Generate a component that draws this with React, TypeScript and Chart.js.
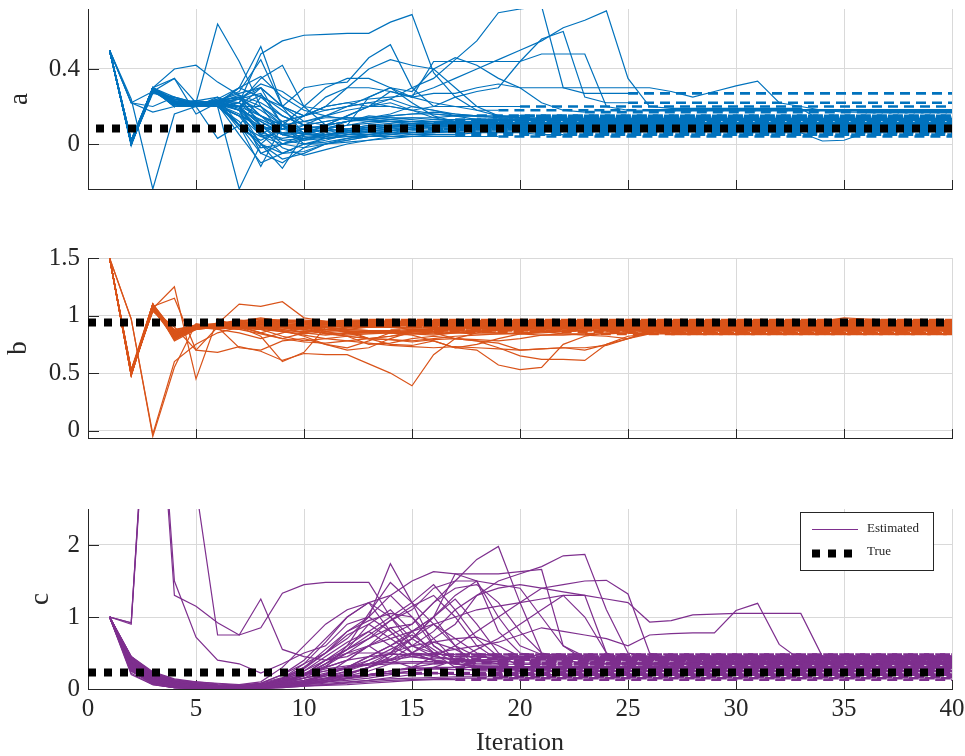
import React, { useEffect, useRef } from 'react';
import { Chart, registerables } from 'chart.js';
Chart.register(...registerables);

// ---------- data ----------
const iterationTicks = [0, 5, 10, 15, 20, 25, 30, 35, 40];
const aTicks = [0, 0.4];
const bTicks = [0, 0.5, 1, 1.5];
const cTicks = [0, 1, 2];
const trueA = 0.083;
const trueB = 0.939;
const trueC = 0.228;

// each run: estimate at iteration 1,2,3,... until it stops (then held constant, dashed)
const aRuns: number[][] = [
  [0.5, 0.0, 0.3, 0.22, 0.21, 0.22, 0.2, 0.05, -0.05, 0.0, 0.03, 0.05, 0.07, 0.08, 0.08, 0.09, 0.09],
  [0.5, 0.01, 0.29, 0.21, 0.22, 0.23, 0.25, 0.1, 0.05, 0.06, 0.1, 0.12, 0.15, 0.14, 0.13, 0.12, 0.11, 0.1, 0.1],
  [0.5, -0.01, 0.3, 0.2, 0.2, 0.22, 0.18, 0.0, -0.05, -0.04, 0.0, 0.02, 0.04, 0.06, 0.08, 0.09, 0.1, 0.1, 0.11, 0.1, 0.1, 0.1],
  [0.5, 0.0, 0.28, 0.24, 0.22, 0.2, 0.22, 0.48, 0.55, 0.58, 0.585, 0.59, 0.59, 0.65, 0.69, 0.38, 0.25, 0.18, 0.15, 0.14, 0.13, 0.13],
  [0.5, 0.24, -0.24, 0.16, 0.2, 0.03, 0.1, 0.25, 0.15, 0.1, 0.08, 0.07, 0.06, 0.06, 0.07, 0.07],
  [0.5, 0.0, 0.3, 0.4, 0.42, 0.33, 0.26, 0.15, 0.05, 0.1, 0.15, 0.2, 0.25, 0.3, 0.22, 0.15, 0.12, 0.12, 0.12],
  [0.5, 0.02, 0.3, 0.35, 0.22, 0.64, 0.44, 0.2, 0.1, 0.05, 0.08, 0.12, 0.14, 0.16, 0.2, 0.18, 0.15, 0.13, 0.13],
  [0.5, 0.0, 0.27, 0.25, 0.22, 0.2, -0.24, 0.0, 0.1, 0.05, 0.06, 0.08, 0.1, 0.1, 0.1, 0.09, 0.08, 0.08],
  [0.5, 0.0, 0.3, 0.2, 0.21, 0.24, 0.3, 0.52, 0.2, 0.05, 0.08, 0.1, 0.25, 0.3, 0.28, 0.4, 0.46, 0.42, 0.35, 0.3, 0.22, 0.18, 0.17],
  [0.5, 0.0, 0.29, 0.22, 0.23, 0.25, 0.1, -0.12, 0.1, 0.12, 0.15, 0.18, 0.2, 0.24, 0.3, 0.35, 0.45, 0.55, 0.7, 0.72, 0.735, 0.3, 0.27, 0.27, 0.27],
  [0.5, 0.22, 0.17, 0.2, 0.2, 0.22, 0.24, 0.3, 0.1, 0.0, 0.02, 0.05, 0.06, 0.07, 0.08, 0.08],
  [0.5, 0.0, 0.3, 0.22, 0.22, 0.21, 0.05, -0.1, -0.05, 0.0, 0.0, 0.01, 0.02, 0.03, 0.04, 0.05, 0.05, 0.06, 0.06, 0.06, 0.05, 0.05],
  [0.5, 0.0, 0.29, 0.24, 0.2, 0.2, 0.15, 0.1, 0.12, 0.15, 0.2, 0.22, 0.24, 0.25, 0.26, 0.3, 0.35, 0.4, 0.45, 0.5, 0.55, 0.62, 0.66, 0.71, 0.35, 0.2, 0.19, 0.19, 0.19, 0.19, 0.19, 0.19, 0.19, 0.12, 0.11],
  [0.5, 0.0, 0.3, 0.2, 0.22, 0.22, 0.2, 0.1, 0.0, -0.02, 0.0, 0.02, 0.04, 0.05, 0.06, 0.07, 0.07, 0.08, 0.08, 0.08, 0.08, 0.07, 0.07, 0.07, 0.07, 0.07, 0.07, 0.07, 0.07, 0.06, 0.06, 0.06, 0.06, 0.016, 0.02, 0.06, 0.06],
  [0.5, 0.01, 0.28, 0.22, 0.2, 0.25, 0.2, 0.3, 0.2, 0.15, 0.2, 0.3, 0.4, 0.45, 0.42, 0.4, 0.3, 0.2, 0.15, 0.14, 0.14],
  [0.5, 0.0, 0.3, 0.21, 0.22, 0.23, 0.28, 0.45, 0.2, 0.3, 0.32, 0.33, 0.46, 0.53, 0.3, 0.2, 0.2, 0.2, 0.2, 0.2],
  [0.5, 0.0, 0.29, 0.23, 0.21, 0.22, 0.1, 0.0, -0.13, 0.05, 0.1, 0.12, 0.13, 0.14, 0.14, 0.14, 0.15, 0.15, 0.15, 0.15],
  [0.5, 0.02, 0.3, 0.2, 0.22, 0.2, 0.25, 0.15, 0.1, 0.2, 0.3, 0.35, 0.35, 0.3, 0.25, 0.44, 0.44, 0.44, 0.44, 0.44, 0.48, 0.48, 0.48, 0.2, 0.18, 0.18],
  [0.5, 0.0, 0.28, 0.22, 0.21, 0.22, 0.2, 0.05, 0.12, 0.15, 0.2, 0.22, 0.2, 0.2, 0.18, 0.2, 0.25, 0.28, 0.3, 0.44, 0.56, 0.6, 0.25, 0.22, 0.22],
  [0.5, 0.01, 0.3, 0.25, 0.22, 0.21, 0.18, -0.05, 0.0, 0.05, 0.05, 0.06, 0.07, 0.08, 0.09, 0.1, 0.1, 0.11, 0.11, 0.11, 0.11, 0.11, 0.1],
  [0.5, 0.0, 0.29, 0.22, 0.2, 0.2, 0.22, 0.35, 0.42, 0.2, 0.1, 0.08, 0.08, 0.09, 0.1, 0.1, 0.1],
  [0.5, 0.0, 0.3, 0.21, 0.21, 0.22, 0.24, 0.27, 0.1, 0.02, 0.03, 0.04, 0.04, 0.04, 0.04, 0.04, 0.04, 0.04, 0.04],
  [0.5, 0.22, 0.28, 0.35, 0.16, 0.22, 0.18, 0.13, 0.08, 0.15, 0.25, 0.3, 0.3, 0.28, 0.25, 0.27, 0.27, 0.3, 0.32, 0.3, 0.3, 0.3, 0.3, 0.3, 0.3, 0.3, 0.28, 0.25, 0.28, 0.31, 0.335, 0.22, 0.2, 0.18, 0.17, 0.17],
  [0.5, 0.0, 0.3, 0.22, 0.22, 0.23, 0.25, 0.2, 0.05, 0.03, 0.05, 0.06, 0.08, 0.09, 0.1, 0.11, 0.12, 0.12, 0.13, 0.13, 0.13, 0.13, 0.12, 0.12, 0.12, 0.12, 0.12, 0.12],
  [0.5, 0.0, 0.29, 0.2, 0.22, 0.22, 0.08, 0.02, 0.08, 0.1, 0.12, 0.14, 0.14, 0.13, 0.12, 0.11, 0.1, 0.09, 0.09, 0.09, 0.09, 0.09, 0.09, 0.09, 0.09, 0.09, 0.09, 0.09, 0.09, 0.09],
  [0.5, 0.02, 0.29, 0.22, 0.2, 0.22, 0.3, 0.25, 0.2, 0.15, 0.18, 0.2, 0.22, 0.24, 0.2, 0.18, 0.16, 0.15, 0.14, 0.14],
  [0.5, 0.0, 0.3, 0.23, 0.21, 0.21, 0.15, 0.05, 0.02, 0.03, 0.05, 0.07, 0.09, 0.1, 0.11, 0.12, 0.12],
  [0.5, 0.01, 0.28, 0.22, 0.22, 0.2, 0.2, 0.1, 0.05, 0.08, 0.1, 0.15, 0.2, 0.28, 0.25, 0.22, 0.2, 0.18, 0.18],
  [0.5, 0.0, 0.3, 0.22, 0.21, 0.22, 0.18, 0.12, 0.05, 0.02, 0.04, 0.06, 0.07, 0.07, 0.08],
  [0.5, 0.01, 0.29, 0.23, 0.22, 0.21, 0.2, 0.15, 0.1, 0.08, 0.07, 0.08, 0.09, 0.1, 0.1, 0.11, 0.11],
  [0.5, 0.0, 0.3, 0.22, 0.2, 0.22, 0.26, 0.22, 0.15, 0.1, 0.12, 0.14, 0.13, 0.12, 0.12, 0.12, 0.13, 0.13],
  [0.5, 0.0, 0.28, 0.21, 0.22, 0.2, 0.12, -0.02, 0.0, 0.03, 0.04, 0.05, 0.05, 0.06, 0.06, 0.06, 0.06],
  [0.5, 0.02, 0.3, 0.24, 0.21, 0.23, 0.27, 0.3, 0.2, 0.12, 0.1, 0.12, 0.14, 0.15, 0.16, 0.16, 0.15, 0.15],
  [0.5, 0.0, 0.29, 0.2, 0.22, 0.21, 0.16, 0.08, -0.02, -0.06, -0.03, 0.0, 0.02, 0.04, 0.05, 0.06, 0.07, 0.08, 0.08, 0.08],
  [0.5, 0.01, 0.3, 0.22, 0.23, 0.22, 0.24, 0.18, 0.1, 0.06, 0.08, 0.1, 0.11, 0.12, 0.12, 0.12, 0.11, 0.11],
  [0.5, 0.0, 0.28, 0.23, 0.2, 0.22, 0.2, 0.26, 0.18, 0.1, 0.05, 0.06, 0.08, 0.09, 0.09, 0.1],
  [0.5, 0.0, 0.3, 0.21, 0.21, 0.2, 0.1, 0.04, 0.06, 0.08, 0.1, 0.12, 0.14, 0.15, 0.16, 0.17, 0.16, 0.15, 0.14, 0.14],
  [0.5, 0.22, 0.2, 0.25, 0.2, 0.24, 0.22, 0.12, 0.06, 0.04, 0.05, 0.07, 0.08, 0.09, 0.1, 0.1, 0.09, 0.09],
  [0.5, 0.0, 0.29, 0.22, 0.22, 0.22, 0.22, 0.15, 0.08, 0.05, 0.1, 0.15, 0.2, 0.22, 0.18, 0.14, 0.12, 0.11, 0.11],
  [0.5, 0.01, 0.3, 0.2, 0.21, 0.23, 0.25, 0.1, 0.02, 0.0, 0.01, 0.03, 0.04, 0.05, 0.06, 0.06, 0.07, 0.07, 0.07, 0.07],
  [0.5, 0.0, 0.28, 0.24, 0.22, 0.2, 0.15, 0.0, -0.08, -0.05, 0.0, 0.03, 0.05, 0.07, 0.09, 0.1, 0.1, 0.1],
  [0.5, 0.0, 0.3, 0.22, 0.21, 0.21, 0.3, 0.36, 0.25, 0.18, 0.15, 0.13, 0.12, 0.12, 0.11, 0.11],
  [0.5, 0.02, 0.29, 0.21, 0.22, 0.22, 0.18, 0.06, 0.03, 0.05, 0.08, 0.1, 0.12, 0.13, 0.14, 0.13, 0.13],
  [0.5, 0.0, 0.3, 0.23, 0.2, 0.21, 0.2, 0.2, 0.12, 0.06, 0.03, 0.04, 0.05, 0.06, 0.05, 0.05, 0.05],
  [0.5, 0.0, 0.29, 0.22, 0.23, 0.22, 0.1, -0.05, -0.1, -0.02, 0.04, 0.08, 0.1, 0.11, 0.12, 0.12, 0.12],
  [0.5, 0.01, 0.3, 0.21, 0.22, 0.2, 0.24, 0.32, 0.28, 0.2, 0.18, 0.2, 0.22, 0.2, 0.18, 0.16, 0.15, 0.15],
  [0.5, 0.0, 0.28, 0.22, 0.21, 0.22, 0.19, 0.08, 0.1, 0.12, 0.14, 0.14, 0.13, 0.12, 0.1, 0.1, 0.09, 0.09],
  [0.5, 0.0, 0.3, 0.2, 0.22, 0.23, 0.2, 0.04, 0.0, 0.02, 0.05, 0.07, 0.09, 0.1, 0.1, 0.1, 0.1],
];

const bRuns: number[][] = [
  [1.5, 0.5, 1.08, 0.8, 0.9, 0.9, 0.92, 0.93, 0.94, 0.95, 0.95, 0.94, 0.94, 0.94],
  [1.5, 0.48, 1.1, 0.78, 0.88, 0.92, 0.95, 0.9, 0.88, 0.9, 0.92, 0.93, 0.93, 0.93, 0.93],
  [1.5, 0.52, 1.05, 0.82, 0.9, 0.88, 0.85, 0.8, 0.85, 0.9, 0.92, 0.91, 0.91, 0.9],
  [1.5, 0.97, -0.05, 0.55, 0.93, 0.9, 0.92, 0.95, 0.9, 0.85, 0.88, 0.9, 0.92, 0.92],
  [1.5, 0.5, 1.06, 1.25, 0.45, 0.97, 0.9, 0.85, 0.9, 0.92, 0.9, 0.88, 0.87, 0.87],
  [1.5, 0.49, 1.08, 1.15, 0.7, 0.68, 0.73, 0.69, 0.61, 0.67, 0.66, 0.66, 0.58, 0.5, 0.39, 0.66, 0.8, 0.85, 0.88, 0.88],
  [1.5, 0.5, 1.07, 0.85, 0.9, 0.93, 1.1, 1.08, 1.12, 0.98, 0.95, 0.94, 0.93, 0.93],
  [1.5, 0.51, 1.04, 0.88, 0.91, 0.9, 0.72, 0.7, 0.78, 0.8, 0.75, 0.72, 0.78, 0.85, 0.86, 0.86, 0.9, 0.9],
  [1.5, 0.5, 1.09, 0.83, 0.89, 0.92, 0.91, 0.85, 0.8, 0.85, 0.9, 0.87, 0.8, 0.75, 0.74, 0.78, 0.72, 0.7, 0.57, 0.53, 0.55, 0.75, 0.82, 0.85, 0.85],
  [1.5, 0.48, 1.06, 0.8, 0.92, 0.91, 0.9, 0.88, 0.82, 0.78, 0.8, 0.82, 0.8, 0.79, 0.77, 0.79, 0.8, 0.78, 0.72, 0.65, 0.62, 0.62, 0.61, 0.75, 0.8, 0.86, 0.86],
  [1.5, 0.53, 1.1, 0.85, 0.9, 0.9, 0.95, 0.98, 0.95, 0.92, 0.9, 0.85, 0.8, 0.82, 0.86, 0.88, 0.9, 0.91, 0.91],
  [1.5, 0.5, 1.05, 0.9, 0.7, 0.9, 0.95, 0.92, 0.9, 0.88, 0.84, 0.85, 0.86, 0.85, 0.84, 0.83, 0.85, 0.87, 0.88, 0.89, 0.9, 0.9],
  [1.5, 0.49, 1.07, 0.81, 0.9, 0.89, 0.92, 0.96, 0.93, 0.9, 0.84, 0.82, 0.75, 0.76, 0.8, 0.82, 0.8, 0.78, 0.76, 0.7, 0.71, 0.72, 0.72, 0.74, 0.8, 0.86, 0.88, 0.88],
  [1.5, 0.5, 1.08, 0.84, 0.91, 0.9, 0.93, 0.94, 0.96, 0.95, 0.94, 0.95, 0.96, 0.95, 0.95],
  [1.5, 0.52, 1.04, 0.86, 0.88, 0.91, 0.9, 0.88, 0.92, 0.9, 0.86, 0.83, 0.84, 0.85, 0.86, 0.85, 0.8, 0.79, 0.78, 0.8, 0.83, 0.84, 0.84],
  [1.5, 0.5, 1.1, 0.79, 0.9, 0.92, 0.94, 0.93, 0.91, 0.92, 0.93, 0.92, 0.91, 0.9, 0.88, 0.86, 0.85, 0.84, 0.84, 0.84, 0.83, 0.83, 0.84, 0.84, 0.85, 0.85, 0.85, 0.86, 0.87, 0.87, 0.87, 0.85, 0.84, 0.85, 0.88, 0.88],
  [1.5, 0.5, 1.06, 0.82, 0.9, 0.9, 0.9, 0.82, 0.6, 0.68, 0.9, 0.92, 0.93],
  [1.5, 0.51, 1.07, 0.83, 0.89, 0.93, 0.96, 0.95, 0.92, 0.88, 0.85, 0.82, 0.8, 0.79, 0.78, 0.8, 0.82, 0.83, 0.84, 0.85, 0.86, 0.84, 0.83, 0.82, 0.8, 0.84, 0.87, 0.9, 0.9],
  [1.5, 0.49, 1.05, 0.87, 0.92, 0.9, 0.89, 0.9, 0.88, 0.85, 0.83, 0.85, 0.87, 0.86, 0.85, 0.84, 0.85, 0.86, 0.87, 0.88, 0.89, 0.89, 0.9, 0.91, 0.92, 0.93, 0.93, 0.93, 0.93, 0.93, 0.93, 0.93, 0.93, 0.95, 0.98, 0.97, 0.96, 0.95],
  [1.5, 0.5, 1.09, 0.8, 0.9, 0.91, 0.92, 0.9, 0.87, 0.82, 0.75, 0.7, 0.72, 0.8, 0.86, 0.89, 0.9, 0.9],
  [1.5, 0.97, -0.03, 0.6, 0.75, 0.85, 0.9, 0.92, 0.9, 0.89, 0.9, 0.91, 0.92, 0.92],
  [1.5, 0.5, 1.07, 0.85, 0.88, 0.9, 0.94, 0.97, 0.93, 0.9, 0.87, 0.86, 0.86, 0.85, 0.83, 0.78, 0.72, 0.75, 0.8, 0.84, 0.86, 0.86, 0.87, 0.87],
  [1.5, 0.52, 1.06, 0.83, 0.9, 0.92, 0.91, 0.89, 0.86, 0.83, 0.8, 0.78, 0.76, 0.74, 0.73, 0.72, 0.73, 0.72, 0.71, 0.7, 0.71, 0.72, 0.7, 0.75, 0.82, 0.84, 0.84],
  [1.5, 0.48, 1.08, 0.81, 0.9, 0.91, 0.93, 0.92, 0.9, 0.92, 0.94, 0.95, 0.95, 0.94, 0.94],
  [1.5, 0.5, 1.1, 0.86, 0.91, 0.9, 0.88, 0.84, 0.8, 0.77, 0.76, 0.78, 0.8, 0.82, 0.84, 0.86, 0.87, 0.86, 0.85, 0.84, 0.85, 0.86, 0.87, 0.87],
  [1.5, 0.5, 1.07, 0.84, 0.9, 0.91, 0.92, 0.93, 0.92, 0.93, 0.94, 0.94, 0.95, 0.95],
  [1.5, 0.49, 1.08, 0.82, 0.89, 0.9, 0.91, 0.92, 0.93, 0.92, 0.91, 0.9, 0.9, 0.91, 0.91],
  [1.5, 0.51, 1.06, 0.85, 0.91, 0.92, 0.93, 0.91, 0.89, 0.88, 0.9, 0.91, 0.92, 0.93, 0.93],
  [1.5, 0.5, 1.09, 0.8, 0.9, 0.89, 0.9, 0.92, 0.94, 0.93, 0.92, 0.92, 0.91, 0.91],
  [1.5, 0.48, 1.1, 0.83, 0.92, 0.93, 0.94, 0.95, 0.96, 0.96, 0.95, 0.96, 0.96],
  [1.5, 0.52, 1.05, 0.86, 0.88, 0.9, 0.92, 0.9, 0.87, 0.86, 0.88, 0.89, 0.9, 0.9, 0.89, 0.89],
  [1.5, 0.5, 1.08, 0.81, 0.9, 0.92, 0.9, 0.88, 0.86, 0.84, 0.86, 0.88, 0.9, 0.91, 0.92, 0.92],
  [1.5, 0.49, 1.07, 0.84, 0.91, 0.9, 0.93, 0.95, 0.93, 0.91, 0.9, 0.88, 0.87, 0.87, 0.88, 0.88, 0.88],
  [1.5, 0.51, 1.1, 0.79, 0.89, 0.91, 0.92, 0.94, 0.95, 0.94, 0.93, 0.94, 0.94],
  [1.5, 0.5, 1.06, 0.82, 0.9, 0.9, 0.91, 0.9, 0.9, 0.89, 0.88, 0.87, 0.86, 0.86, 0.87, 0.87],
  [1.5, 0.53, 1.04, 0.87, 0.92, 0.91, 0.89, 0.88, 0.9, 0.92, 0.93, 0.92, 0.92],
  [1.5, 0.48, 1.09, 0.8, 0.88, 0.92, 0.94, 0.92, 0.9, 0.87, 0.85, 0.84, 0.85, 0.86, 0.87, 0.88, 0.89, 0.89],
  [1.5, 0.5, 1.07, 0.83, 0.91, 0.93, 0.95, 0.97, 0.96, 0.94, 0.93, 0.93, 0.94, 0.94],
  [1.5, 0.5, 1.05, 0.85, 0.9, 0.89, 0.88, 0.9, 0.92, 0.9, 0.88, 0.86, 0.85, 0.85, 0.86, 0.86],
  [1.5, 0.52, 1.08, 0.82, 0.9, 0.91, 0.9, 0.89, 0.91, 0.93, 0.92, 0.91, 0.9, 0.9, 0.9],
];

const cRuns: number[][] = [
  [1, 0.92, 5.7, 1.5, 0.72, 0.4, 0.35, 0.22, 0.35, 0.5, 0.6, 0.9, 1.0, 0.8, 0.5, 0.4, 0.35, 0.3, 0.3],
  [1, 0.9, 5.5, 1.3, 1.15, 0.92, 0.75, 1.25, 0.55, 0.45, 0.4, 0.45, 0.6, 0.75, 0.9, 1.2, 1.5, 1.8, 1.98, 1.2, 0.5, 0.45, 0.4, 0.4],
  [1, 0.92, 5.6, 3.4, 2.8, 0.75, 0.75, 0.85, 1.33, 1.45, 1.48, 1.48, 1.48, 1.0, 0.6, 0.5, 0.45, 0.45],
  [1, 0.45, 0.2, 0.1, 0.08, 0.05, 0.04, 0.08, 0.2, 0.35, 0.5, 0.7, 1.0, 1.74, 1.2, 0.6, 0.4, 0.35, 0.35],
  [1, 0.42, 0.18, 0.08, 0.05, 0.03, 0.02, 0.05, 0.15, 0.3, 0.5, 0.8, 1.0, 1.3, 1.5, 1.63, 1.6, 1.5, 0.8, 0.5, 0.45, 0.42, 0.42],
  [1, 0.4, 0.15, 0.06, 0.04, 0.02, 0.02, 0.04, 0.1, 0.15, 0.2, 0.3, 0.45, 0.6, 0.8, 1.0, 1.6, 1.6, 1.6, 1.63, 1.66, 0.6, 0.45, 0.4, 0.4],
  [1, 0.35, 0.12, 0.05, 0.03, 0.02, 0.02, 0.03, 0.08, 0.1, 0.15, 0.2, 0.3, 0.4, 0.5, 0.7, 0.9, 1.3, 1.5, 1.6, 1.7, 1.85, 1.87, 1.1, 0.5, 0.45, 0.45],
  [1, 0.3, 0.1, 0.04, 0.02, 0.01, 0.01, 0.03, 0.05, 0.08, 0.1, 0.15, 0.2, 0.25, 0.3, 0.45, 0.6, 0.8, 1.0, 1.2, 1.4, 1.45, 1.5, 1.51, 1.32, 0.5, 0.4, 0.38, 0.38],
  [1, 0.45, 0.22, 0.12, 0.1, 0.08, 0.06, 0.1, 0.3, 0.6, 0.9, 1.1, 1.2, 0.8, 0.5, 0.4, 0.35, 0.33, 0.33],
  [1, 0.28, 0.08, 0.03, 0.02, 0.01, 0.02, 0.05, 0.1, 0.2, 0.3, 0.4, 0.6, 0.85, 0.9, 1.2, 1.4, 1.45, 1.2, 0.8, 0.5, 0.4, 0.36, 0.35, 0.35],
  [1, 0.4, 0.2, 0.1, 0.07, 0.05, 0.04, 0.06, 0.12, 0.2, 0.25, 0.3, 0.35, 0.4, 0.45, 0.5, 0.55, 0.6, 0.65, 0.75, 0.85, 0.8, 0.75, 0.7, 0.6, 0.75, 0.77, 0.78, 0.78, 1.09, 1.19, 0.62, 0.4, 0.3, 0.3],
  [1, 0.38, 0.16, 0.07, 0.05, 0.03, 0.02, 0.04, 0.08, 0.12, 0.18, 0.25, 0.35, 0.5, 0.7, 0.9, 1.0, 1.1, 1.15, 1.2, 1.25, 1.3, 1.3, 1.25, 1.2, 0.93, 0.95, 1.03, 1.04, 1.05, 1.05, 1.05, 1.05, 0.45, 0.45],
  [1, 0.33, 0.12, 0.05, 0.03, 0.02, 0.01, 0.02, 0.05, 0.08, 0.12, 0.2, 0.3, 0.5, 0.8, 1.0, 0.6, 0.3, 0.25, 0.22, 0.2, 0.2],
  [1, 0.25, 0.07, 0.02, 0.01, 0.0, 0.0, 0.02, 0.04, 0.06, 0.08, 0.1, 0.12, 0.14, 0.15, 0.16, 0.17, 0.17, 0.17],
  [1, 0.3, 0.1, 0.05, 0.03, 0.02, 0.02, 0.03, 0.06, 0.1, 0.2, 0.4, 0.6, 0.4, 0.3, 0.28, 0.27, 0.27],
  [1, 0.42, 0.22, 0.12, 0.08, 0.05, 0.03, 0.05, 0.1, 0.2, 0.35, 0.55, 0.9, 1.1, 0.8, 0.5, 0.3, 0.25, 0.25],
  [1, 0.2, 0.06, 0.02, 0.01, 0.0, 0.0, 0.01, 0.03, 0.05, 0.06, 0.08, 0.1, 0.12, 0.13, 0.14, 0.15, 0.15],
  [1, 0.36, 0.15, 0.06, 0.04, 0.03, 0.02, 0.03, 0.07, 0.15, 0.3, 0.6, 1.05, 1.48, 1.2, 0.9, 0.6, 0.45, 0.42, 0.42],
  [1, 0.32, 0.1, 0.04, 0.02, 0.01, 0.01, 0.02, 0.05, 0.09, 0.15, 0.25, 0.4, 0.55, 0.7, 1.0, 1.3, 1.5, 1.0, 0.6, 0.48, 0.46, 0.46],
  [1, 0.4, 0.18, 0.09, 0.06, 0.04, 0.03, 0.05, 0.15, 0.3, 0.55, 0.8, 0.95, 1.05, 1.0, 0.7, 0.4, 0.3, 0.28, 0.28],
  [1, 0.27, 0.08, 0.03, 0.02, 0.01, 0.01, 0.02, 0.04, 0.07, 0.1, 0.14, 0.18, 0.22, 0.25, 0.3, 0.4, 0.55, 0.7, 0.9, 1.1, 1.3, 1.0, 0.5, 0.4, 0.32, 0.32],
  [1, 0.45, 0.24, 0.14, 0.1, 0.07, 0.05, 0.08, 0.2, 0.4, 0.7, 1.0, 1.2, 1.3, 1.0, 0.6, 0.4, 0.38, 0.38],
  [1, 0.34, 0.13, 0.05, 0.03, 0.02, 0.02, 0.03, 0.06, 0.1, 0.15, 0.22, 0.3, 0.4, 0.6, 0.8, 1.1, 1.3, 1.4, 1.45, 1.4, 1.35, 1.3, 0.5, 0.3, 0.25, 0.25],
  [1, 0.3, 0.11, 0.04, 0.03, 0.02, 0.01, 0.02, 0.04, 0.07, 0.1, 0.12, 0.15, 0.2, 0.25, 0.28, 0.3, 0.3],
  [1, 0.38, 0.17, 0.08, 0.05, 0.03, 0.02, 0.04, 0.1, 0.2, 0.4, 0.5, 0.5, 0.5, 0.45, 0.4, 0.35, 0.32, 0.3, 0.3, 0.3],
  [1, 0.22, 0.06, 0.02, 0.01, 0.0, 0.0, 0.01, 0.02, 0.04, 0.05, 0.06, 0.08, 0.1, 0.12, 0.13, 0.13],
  [1, 0.4, 0.2, 0.1, 0.07, 0.05, 0.04, 0.06, 0.15, 0.35, 0.65, 1.0, 1.2, 1.0, 0.7, 0.5, 0.45, 0.45, 0.44, 0.44],
  [1, 0.35, 0.14, 0.06, 0.04, 0.03, 0.02, 0.03, 0.08, 0.18, 0.35, 0.55, 0.75, 0.95, 1.1, 1.4, 1.5, 1.5, 1.45, 1.4, 1.0, 0.6, 0.4, 0.35, 0.35],
  [1, 0.38, 0.15, 0.06, 0.04, 0.02, 0.02, 0.04, 0.1, 0.18, 0.25, 0.3, 0.33, 0.35, 0.36, 0.36],
  [1, 0.42, 0.2, 0.1, 0.07, 0.05, 0.04, 0.07, 0.14, 0.22, 0.3, 0.4, 0.45, 0.48, 0.48],
  [1, 0.3, 0.1, 0.04, 0.02, 0.01, 0.01, 0.02, 0.06, 0.1, 0.14, 0.18, 0.2, 0.22, 0.22],
  [1, 0.36, 0.14, 0.06, 0.03, 0.02, 0.02, 0.03, 0.08, 0.15, 0.22, 0.28, 0.35, 0.42, 0.5, 0.45, 0.42, 0.4, 0.4],
  [1, 0.25, 0.07, 0.02, 0.01, 0.0, 0.0, 0.01, 0.03, 0.06, 0.1, 0.15, 0.2, 0.25, 0.28, 0.3, 0.3],
  [1, 0.44, 0.23, 0.13, 0.09, 0.06, 0.05, 0.08, 0.16, 0.25, 0.4, 0.55, 0.7, 0.85, 0.6, 0.45, 0.4, 0.38, 0.38],
  [1, 0.33, 0.12, 0.05, 0.03, 0.02, 0.01, 0.02, 0.05, 0.1, 0.18, 0.3, 0.45, 0.6, 0.75, 0.55, 0.35, 0.3, 0.28, 0.28],
  [1, 0.4, 0.18, 0.08, 0.05, 0.03, 0.03, 0.05, 0.12, 0.25, 0.45, 0.65, 0.8, 0.6, 0.45, 0.42, 0.42],
  [1, 0.28, 0.09, 0.03, 0.02, 0.01, 0.01, 0.02, 0.04, 0.08, 0.12, 0.18, 0.25, 0.35, 0.5, 0.65, 0.55, 0.4, 0.35, 0.34, 0.34],
  [1, 0.35, 0.13, 0.05, 0.03, 0.02, 0.02, 0.04, 0.09, 0.2, 0.35, 0.5, 0.6, 0.7, 0.8, 0.9, 0.7, 0.5, 0.45, 0.44, 0.44],
  [1, 0.43, 0.21, 0.11, 0.08, 0.05, 0.04, 0.06, 0.12, 0.2, 0.28, 0.32, 0.35, 0.37, 0.38, 0.38],
  [1, 0.31, 0.11, 0.04, 0.02, 0.01, 0.01, 0.02, 0.05, 0.09, 0.14, 0.2, 0.3, 0.45, 0.7, 1.0, 1.25, 0.9, 0.5, 0.3, 0.25, 0.24, 0.24],
  [1, 0.37, 0.15, 0.07, 0.04, 0.03, 0.02, 0.04, 0.1, 0.2, 0.32, 0.5, 0.7, 0.95, 1.15, 1.3, 1.0, 0.6, 0.4, 0.36, 0.36],
  [1, 0.26, 0.07, 0.02, 0.01, 0.0, 0.0, 0.01, 0.02, 0.04, 0.06, 0.09, 0.12, 0.16, 0.2, 0.22, 0.2, 0.2],
  [1, 0.41, 0.19, 0.09, 0.06, 0.04, 0.03, 0.05, 0.13, 0.28, 0.5, 0.75, 0.9, 0.7, 0.5, 0.48, 0.48],
  [1, 0.34, 0.13, 0.05, 0.03, 0.02, 0.02, 0.03, 0.07, 0.12, 0.2, 0.3, 0.4, 0.5, 0.6, 0.65, 0.7, 0.72, 0.6, 0.45, 0.42, 0.42],
  [1, 0.29, 0.09, 0.03, 0.02, 0.01, 0.01, 0.02, 0.05, 0.08, 0.12, 0.16, 0.2, 0.25, 0.3, 0.35, 0.38, 0.4, 0.42, 0.43, 0.43],
  [1, 0.39, 0.17, 0.08, 0.05, 0.03, 0.02, 0.04, 0.1, 0.2, 0.4, 0.6, 0.8, 1.0, 1.2, 1.45, 1.1, 0.7, 0.45, 0.4, 0.39, 0.39],
];

// ---------- styling ----------
const FONT = '"Liberation Serif", "Times New Roman", serif';
const AXIS = '#262626';
const GRID = '#d9d9d9';
const BLUE = '#0072BD';
const ORANGE = '#D95319';
const PURPLE = '#7E2F8E';
const X_MAX = 40;

function buildDatasets(runs: number[][], color: string, truth: number, dashOffset: number) {
  const ds: any[] = [
    {
      label: 'True',
      data: [{ x: 0, y: truth }, { x: X_MAX, y: truth }],
      borderColor: '#000',
      borderWidth: 8,
      borderDash: [8, 8],
      borderDashOffset: dashOffset,
      borderCapStyle: 'butt',
      pointRadius: 0,
      order: -1,
    },
  ];
  runs.forEach((run) => {
    ds.push({
      label: 'Estimated',
      data: run.map((v, i) => ({ x: i + 1, y: v })),
      borderColor: color,
      borderWidth: 1.2,
      pointRadius: 0,
      order: 1,
    });
    const n = run.length;
    if (n < X_MAX) {
      ds.push({
        label: 'Estimated (held)',
        data: [{ x: n, y: run[n - 1] }, { x: X_MAX, y: run[n - 1] }],
        borderColor: color,
        borderWidth: 2.6,
        borderDash: [10, 6],
        borderCapStyle: 'butt',
        pointRadius: 0,
        order: 2,
      });
    }
  });
  return ds;
}

const inwardTicks = {
  id: 'inwardTicks',
  beforeDatasetsDraw(chart: any) {
    const { ctx, chartArea, scales } = chart;
    const { left, bottom } = chartArea;
    ctx.save();
    ctx.strokeStyle = AXIS;
    ctx.lineWidth = 1;
    ctx.beginPath();
    scales.x.ticks.forEach((t: any) => {
      const px = Math.round(scales.x.getPixelForValue(t.value)) + 0.5;
      ctx.moveTo(px, bottom);
      ctx.lineTo(px, bottom - 9);
    });
    scales.y.ticks.forEach((t: any) => {
      const py = Math.round(scales.y.getPixelForValue(t.value)) + 0.5;
      ctx.moveTo(left, py);
      ctx.lineTo(left + 11, py);
    });
    ctx.stroke();
    ctx.restore();
  },
};

const legendBox = {
  id: 'legendBox',
  afterDraw(chart: any) {
    const ctx = chart.ctx;
    ctx.save();
    ctx.fillStyle = '#ffffff';
    ctx.fillRect(800.5, 12.5, 133, 58);
    ctx.strokeStyle = AXIS;
    ctx.lineWidth = 1;
    ctx.strokeRect(800.5, 12.5, 133, 58);
    ctx.strokeStyle = PURPLE;
    ctx.lineWidth = 1.2;
    ctx.beginPath();
    ctx.moveTo(812, 29.5);
    ctx.lineTo(858, 29.5);
    ctx.stroke();
    ctx.strokeStyle = '#000';
    ctx.lineWidth = 8;
    ctx.setLineDash([8, 8]);
    ctx.lineCap = 'butt';
    ctx.beginPath();
    ctx.moveTo(812, 53.5);
    ctx.lineTo(856, 53.5);
    ctx.stroke();
    ctx.setLineDash([]);
    ctx.fillStyle = AXIS;
    ctx.font = '13px ' + FONT;
    ctx.textBaseline = 'middle';
    ctx.textAlign = 'left';
    ctx.fillText('Estimated', 867, 28.5);
    ctx.fillText('True', 867, 52);
    ctx.restore();
  },
};

interface PanelSpec {
  runs: number[][];
  color: string;
  truth: number;
  dashOffset: number;
  yMin: number;
  yMax: number;
  yTicks: number[];
  label: string;
  titlePad: number;
  padTop: number;
  padBottom: number;
  xHeight: number;
  showX: boolean;
  legend: boolean;
}

function makeConfig(p: PanelSpec): any {
  return {
    type: 'line',
    data: { datasets: buildDatasets(p.runs, p.color, p.truth, p.dashOffset) },
    options: {
      animation: false,
      responsive: false,
      events: [],
      layout: { padding: { top: p.padTop, bottom: p.padBottom, left: 0, right: 13 } },
      plugins: { legend: { display: false }, tooltip: { enabled: false } },
      scales: {
        x: {
          type: 'linear',
          min: 0,
          max: X_MAX,
          afterBuildTicks: (s: any) => {
            s.ticks = iterationTicks.map((v) => ({ value: v }));
          },
          afterFit: (s: any) => {
            s.height = p.xHeight;
            s.paddingLeft = 0;
            s.paddingRight = 0;
          },
          grid: { color: GRID, lineWidth: 1, drawTicks: false },
          border: { display: true, color: AXIS, width: 1 },
          ticks: {
            display: p.showX,
            font: { family: FONT, size: 25 },
            color: AXIS,
            padding: 5,
            maxRotation: 0,
            autoSkip: false,
            callback: (v: any) => String(v),
          },
          title: {
            display: p.showX,
            text: 'Iteration',
            font: { family: FONT, size: 26, lineHeight: 1 },
            color: AXIS,
            padding: 0,
          },
        },
        y: {
          type: 'linear',
          min: p.yMin,
          max: p.yMax,
          afterBuildTicks: (s: any) => {
            s.ticks = p.yTicks.map((v) => ({ value: v }));
          },
          afterFit: (s: any) => {
            s.width = 88;
            s.paddingTop = 0;
            s.paddingBottom = 0;
          },
          grid: { color: GRID, lineWidth: 1, drawTicks: false },
          border: { display: true, color: AXIS, width: 1 },
          ticks: {
            font: { family: FONT, size: 25 },
            color: AXIS,
            padding: 8,
            autoSkip: false,
            callback: (v: any) => String(v),
          },
          title: {
            display: true,
            text: p.label,
            font: { family: FONT, size: 27, lineHeight: 1 },
            color: AXIS,
            padding: { top: p.titlePad, bottom: 0 },
          },
        },
      },
    },
    plugins: p.legend ? [inwardTicks, legendBox] : [inwardTicks],
  };
}

export default function App() {
  const refA = useRef<HTMLCanvasElement>(null);
  const refB = useRef<HTMLCanvasElement>(null);
  const refC = useRef<HTMLCanvasElement>(null);

  useEffect(() => {
    const charts = [
      new Chart(refA.current!, makeConfig({
        runs: aRuns, color: BLUE, truth: trueA, dashOffset: 8,
        yMin: -0.24, yMax: 0.72, yTicks: aTicks, label: 'a', titlePad: 6,
        padTop: 9, padBottom: 11, xHeight: 0, showX: false, legend: false,
      })),
      new Chart(refB.current!, makeConfig({
        runs: bRuns, color: ORANGE, truth: trueB, dashOffset: 0,
        yMin: -0.064, yMax: 1.5, yTicks: bTicks, label: 'b', titlePad: 5,
        padTop: 28, padBottom: 12, xHeight: 0, showX: false, legend: false,
      })),
      new Chart(refC.current!, makeConfig({
        runs: cRuns, color: PURPLE, truth: trueC, dashOffset: 0,
        yMin: 0, yMax: 2.5, yTicks: cTicks, label: 'c', titlePad: 27,
        padTop: 9, padBottom: 0, xHeight: 67, showX: true, legend: true,
      })),
    ];
    return () => charts.forEach((c) => c.destroy());
  }, []);

  const cv = (top: number, h: number): React.CSSProperties => ({
    position: 'absolute', left: 0, top, width: 965, height: h, display: 'block',
  });

  return (
    <div style={{ position: 'absolute', left: 0, top: 0, width: 965, height: 756, background: '#fff', overflow: 'hidden' }}>
      <canvas ref={refA} width={965} height={200} style={cv(0, 200)} />
      <canvas ref={refB} width={965} height={220} style={cv(230, 220)} />
      <canvas ref={refC} width={965} height={256} style={cv(500, 256)} />
    </div>
  );
}
